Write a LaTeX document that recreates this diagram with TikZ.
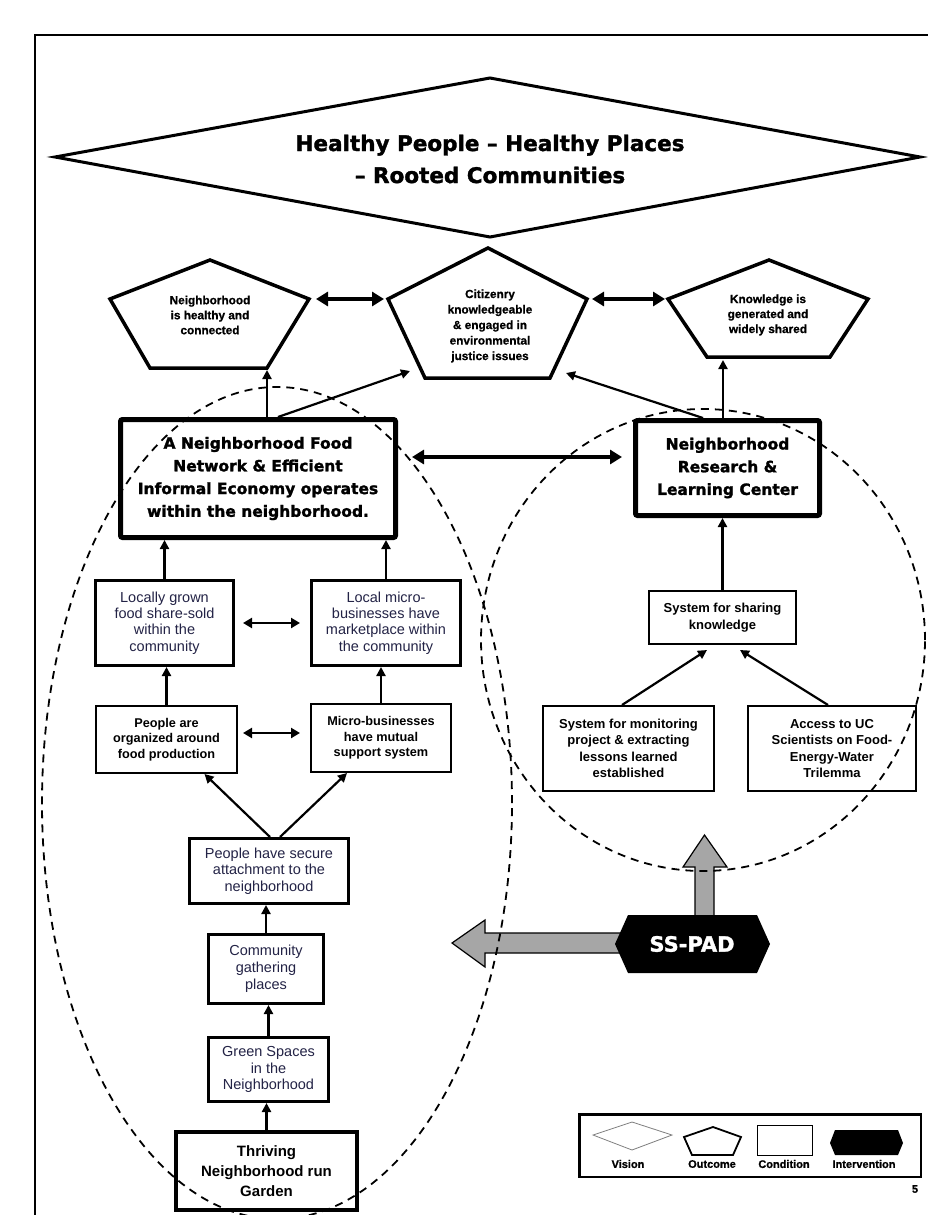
\documentclass[tikz,border=0pt]{standalone}
\usepackage{fontspec}
\setmainfont{Liberation Sans}
\newfontfamily\heavy[FakeBold=1.6]{DejaVu Sans Bold}
\newfontfamily\pentfont[FakeBold=0.8]{Liberation Sans Bold}
\usetikzlibrary{arrows.meta,calc}
\definecolor{txtblue}{RGB}{35,35,70}
\definecolor{arrgray}{RGB}{166,166,166}
\begin{document}
\begin{tikzpicture}[x=1pt,y=-1pt,
  every node/.style={inner sep=0pt},
  cond/.style={draw, line width=3pt, align=center, text=txtblue, font=\fontsize{14.5}{16.3}\selectfont},
  condb/.style={draw, line width=2pt, align=center, font=\bfseries\fontsize{12.7}{15.5}\selectfont},
  condr/.style={draw, line width=2pt, align=center, font=\bfseries\fontsize{13}{16.5}\selectfont},
  bigbox/.style={draw, line width=5pt, rounded corners=2pt, align=center, font=\heavy\fontsize{15.5}{22.7}\selectfont},
  pent/.style={line width=3.5pt, line join=miter},
  ptext/.style={align=center, font=\pentfont\fontsize{11.8}{15}\selectfont},
  arr/.style={-{Triangle[length=9pt,width=9pt]}, line width=2.2pt},
  dbl/.style={{Triangle[length=9pt,width=10pt]}-{Triangle[length=9pt,width=10pt]}, line width=2.3pt},
  bigdbl/.style={{Triangle[length=12pt,width=14pt]}-{Triangle[length=12pt,width=14pt]}, line width=3.8pt},
  dsh/.style={line width=1.8pt, dash pattern=on 8pt off 6pt},
  blockarrow/.style={fill=arrgray, draw=black, line width=1.2pt, line join=miter},
  lab/.style={font=\pentfont\fontsize{11}{13}\selectfont},
]
\useasboundingbox (0,0) rectangle (927,1215);
\fill[white] (0,0) rectangle (927,1215);

% frame
\draw[line width=2.5pt] (935,35) -- (35,35) -- (35,1225);

% vision diamond
\draw[line width=3pt, line join=miter] (55,157) -- (490,78) -- (920,157) -- (490,237) -- cycle;
\node[align=center, font=\heavy\fontsize{21.5}{32}\selectfont] (title) at (490,159)
  {Healthy People – Healthy Places\\– Rooted Communities};

% outcome pentagons
\draw[pent] (210,260) -- (309,299) -- (267,368) -- (150,368) -- (110,299) -- cycle;
\node[ptext] (p1t) at (210,315) {Neighborhood\\is healthy and\\connected};
\draw[pent] (488,248) -- (587,299) -- (550,378) -- (425,378) -- (388,299) -- cycle;
\node[ptext, font=\pentfont\fontsize{11.8}{15.5}\selectfont] (p2t) at (490,326)
  {Citizenry\\knowledgeable\\\& engaged in\\environmental\\justice issues};
\draw[pent] (769,260) -- (868,299) -- (830,357) -- (707,357) -- (668,299) -- cycle;
\node[ptext] (p3t) at (768,315) {Knowledge is\\generated and\\widely shared};

\coordinate (p1r) at (316,299);
\coordinate (p2l) at (384,299);
\coordinate (p2r) at (592,299);
\coordinate (p3l) at (665,299);
\draw[bigdbl] (p1r) -- (p2l);
\draw[bigdbl] (p2r) -- (p3l);

% main boxes
\node[bigbox, minimum width=275pt, minimum height=118pt] (bigL) at (258,478.5)
  {A Neighborhood Food\\Network \& Efficient\\Informal Economy operates\\within the neighborhood.};
\node[bigbox, minimum width=184pt, minimum height=95pt] (research) at (727.5,468)
  {Neighborhood\\Research \&\\Learning Center};

\coordinate (p1b) at (267,370);
\coordinate (p2bl) at (410,371);
\coordinate (p2br) at (566,373);
\coordinate (p3b) at (723,360);
\draw[arr] (bigL.north -| p1b) -- (p1b);
\draw[arr] ([xshift=20pt]bigL.north) -- (p2bl);
\draw[arr] ([xshift=-24.5pt]research.north) -- (p2br);
\draw[arr] (research.north -| p3b) -- (p3b);
\draw[bigdbl] ([xshift=14pt,yshift=21.5pt]bigL.east) -- ([xshift=-11pt,yshift=11pt]research.west);

% left column
\node[cond, minimum width=138pt, minimum height=85pt] (loc) at (164.5,623)
  {Locally grown\\food share-sold\\within the\\community};
\node[cond, minimum width=149pt, minimum height=85pt] (mkt) at (386,623)
  {Local micro-\\businesses have\\marketplace within\\the community};
\node[condb, minimum width=141pt, minimum height=67pt] (org) at (166.5,739.5)
  {People are\\organized around\\food production};
\node[condb, minimum width=140pt, minimum height=68pt] (mut) at (381,738)
  {Micro-businesses\\have mutual\\support system};
\node[cond, minimum width=159pt, minimum height=65pt] (sec) at (269,871)
  {People have secure\\attachment to the\\neighborhood};
\node[cond, font=\fontsize{14.5}{17}\selectfont, minimum width=115pt, minimum height=69pt] (comm) at (266,969)
  {Community\\gathering\\places};
\node[cond, minimum width=120pt, minimum height=64pt] (green) at (268.5,1069.5)
  {Green Spaces\\in the\\Neighborhood};
\node[draw, line width=4pt, align=center, font=\bfseries\fontsize{15}{20}\selectfont,
  minimum width=181pt, minimum height=78pt] (thr) at (266.5,1171)
  {Thriving\\Neighborhood run\\Garden};

\draw[arr] (loc.north) -- (loc.north |- bigL.south);
\draw[arr] (mkt.north) -- (mkt.north |- bigL.south);
\draw[dbl] ([xshift=8pt]loc.east) -- ([xshift=-10pt]mkt.west);
\draw[arr] (org.north) -- (org.north |- loc.south);
\draw[arr] (mut.north) -- (mut.north |- mkt.south);
\draw[dbl] ([xshift=5pt,yshift=6.5pt]org.east) -- ([xshift=-10pt,yshift=5pt]mut.west);
\draw[arr] ([xshift=1pt]sec.north) -- ([xshift=38pt]org.south);
\draw[arr] ([xshift=11pt]sec.north) -- ([xshift=-34pt]mut.south);
\draw[arr] (comm.north) -- (comm.north |- sec.south);
\draw[arr] (green.north) -- (green.north |- comm.south);
\draw[arr] (thr.north) -- (thr.north |- green.south);

% right column
\node[condr, font=\bfseries\fontsize{13}{17}\selectfont, minimum width=147pt, minimum height=53pt] (share) at (722.5,617.5)
  {System for sharing\\knowledge};
\node[condr, minimum width=171pt, minimum height=85pt] (mon) at (628.5,748.5)
  {System for monitoring\\project \& extracting\\lessons learned\\established};
\node[condr, minimum width=168pt, minimum height=85pt] (uc) at (832,748.5)
  {Access to UC\\Scientists on Food-\\Energy-Water\\Trilemma};
\draw[arr] (share.north) -- (share.north |- research.south);
\draw[arr] ([xshift=-6.5pt]mon.north) -- ([xshift=-15.5pt,yshift=-5pt]share.south);
\draw[arr] ([xshift=-4pt]uc.north) -- ([xshift=17.5pt,yshift=-5pt]share.south);

% intervention
\draw[blockarrow] (695,930) -- (695,867) -- (683,867) -- (704.5,835) -- (727,867) -- (714,867) -- (714,930) -- cycle;
\draw[blockarrow] (640,933) -- (485,933) -- (485,920) -- (452,943) -- (485,967) -- (485,953) -- (640,953) -- cycle;
\fill (615,944) -- (628,915) -- (757,915) -- (770,944) -- (757,973) -- (628,973) -- cycle;
\node[text=white, font=\heavy\fontsize{21}{24}\selectfont] (sspad) at (692,944) {SS-PAD};

% dashed ellipses
\draw[dsh] (277,803) ellipse [x radius=235pt, y radius=416pt];
\draw[dsh] (703,640) ellipse [x radius=222pt, y radius=231pt];

% legend
\node[draw, line width=2.5pt, minimum width=341.5pt, minimum height=62.5pt] (legend) at (750,1145.5) {};
\draw[gray, line width=0.8pt] (593,1135) -- (632,1122) -- (672,1135) -- (632,1150) -- cycle;
\draw[line width=1.8pt, line join=miter] (713,1127) -- (741,1137) -- (733,1155) -- (692,1155) -- (684,1137) -- cycle;
\draw[line width=1pt] (757,1125) rectangle (812,1155);
\fill (830,1143) -- (835,1130) -- (898,1130) -- (903,1143) -- (898,1155) -- (835,1155) -- cycle;
\node[lab] (lv) at (628,1164) {Vision};
\node[lab] (lo) at (712,1164) {Outcome};
\node[lab] (lc) at (784,1164) {Condition};
\node[lab] (li) at (864,1164) {Intervention};
\node[lab] (pg) at (915,1189) {5};
\end{tikzpicture}
\end{document}
